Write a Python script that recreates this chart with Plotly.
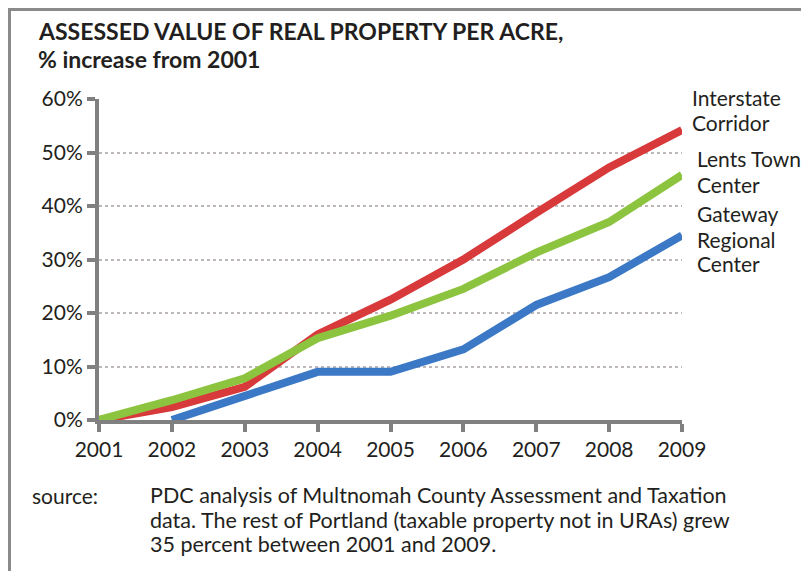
import plotly.graph_objects as go

years = [2001, 2002, 2003, 2004, 2005, 2006, 2007, 2008, 2009]
interstate = [0, 2.4, 6.2, 16.0, 22.5, 30.0, 38.7, 47.2, 54.2]
lents = [0, 3.7, 7.8, 15.3, 19.5, 24.5, 31.3, 37.0, 45.8]
gateway_years = [2002, 2003, 2004, 2005, 2006, 2007, 2008, 2009]
gateway = [0, 4.4, 9.0, 9.0, 13.2, 21.5, 26.7, 34.5]
y_ticks = [0, 10, 20, 30, 40, 50, 60]
y_tick_labels = ["0%", "10%", "20%", "30%", "40%", "50%", "60%"]

O = 8  # page body margin offset
W, H = 809 - O, 571 - O
# plot area in page pixels
L, R, T, B = 99, 682, 99, 420


def px(x):
    return (x - L) / (R - L)


def py(y):
    return (B - y) / (B - T)


TXT = "#231f20"
AX = "#808080"
FONT = "Lato"

fig = go.Figure()
fig.add_trace(go.Scatter(x=years, y=interstate, mode="lines",
                         line=dict(color="#d8393b", width=8), name="Interstate Corridor"))
fig.add_trace(go.Scatter(x=years, y=lents, mode="lines",
                         line=dict(color="#8cc43f", width=8), name="Lents Town Center"))
fig.add_trace(go.Scatter(x=gateway_years, y=gateway, mode="lines",
                         line=dict(color="#3b78c6", width=8), name="Gateway Regional Center"))

fig.update_layout(
    width=W, height=H,
    margin=dict(l=L - O, r=809 - R, t=T - O, b=571 - B),
    paper_bgcolor="white", plot_bgcolor="white",
    showlegend=False,
    font=dict(family=FONT, color=TXT, size=21),
)
fig.update_xaxes(range=[2001, 2009], tickvals=years, ticktext=[str(y) for y in years],
                 showgrid=False, zeroline=False, showline=True, linecolor=AX, linewidth=4,
                 ticks="outside", ticklen=8, tickwidth=4, tickcolor=AX,
                 tickfont=dict(family=FONT, size=21, color=TXT))
fig.update_yaxes(range=[0, 60], tickvals=y_ticks, ticktext=y_tick_labels,
                 showgrid=True, gridcolor="#bdb7b7", gridwidth=2, griddash="dot",
                 zeroline=False, showline=True, linecolor=AX, linewidth=4,
                 ticks="outside", ticklen=8, tickwidth=4, tickcolor=AX,
                 tickfont=dict(family=FONT, size=21, color=TXT))

# frame lines (page px 8 == figure px 0)
fig.add_shape(type="line", xref="paper", yref="paper",
              x0=px(8), x1=px(809), y0=py(9.5), y1=py(9.5), line=dict(color="#8a8a8a", width=3))
fig.add_shape(type="line", xref="paper", yref="paper",
              x0=px(9.5), x1=px(9.5), y0=py(8), y1=py(571), line=dict(color="#8a8a8a", width=3))


def text(s, x, y, size=21, bold=False, family=FONT):
    fig.add_annotation(text=f"<b>{s}</b>" if bold else s, xref="paper", yref="paper",
                       x=px(x), y=py(y), xanchor="left", yanchor="middle", showarrow=False,
                       font=dict(family=family, size=size, color=TXT), align="left")


text("ASSESSED VALUE OF REAL PROPERTY PER ACRE,", 36, 31, size=23, bold=True)
text("% increase from 2001", 36, 59, size=23, bold=True)

text("Interstate", 690, 97)
text("Corridor", 690, 122)
text("Lents Town", 695, 158)
text("Center", 695, 184)
text("Gateway", 695, 213)
text("Regional", 695, 239)
text("Center", 695, 264)

SRC = "Lato"
text("source:", 30, 495, size=21, family=SRC)
text("PDC analysis of Multnomah County Assessment and Taxation", 148, 495, size=21.5, family=SRC)
text("data. The rest of Portland (taxable property not in URAs) grew", 148, 520, size=21.5, family=SRC)
text("35 percent between 2001 and 2009.", 148, 544, size=21.5, family=SRC)

fig.write_html("out.html")
